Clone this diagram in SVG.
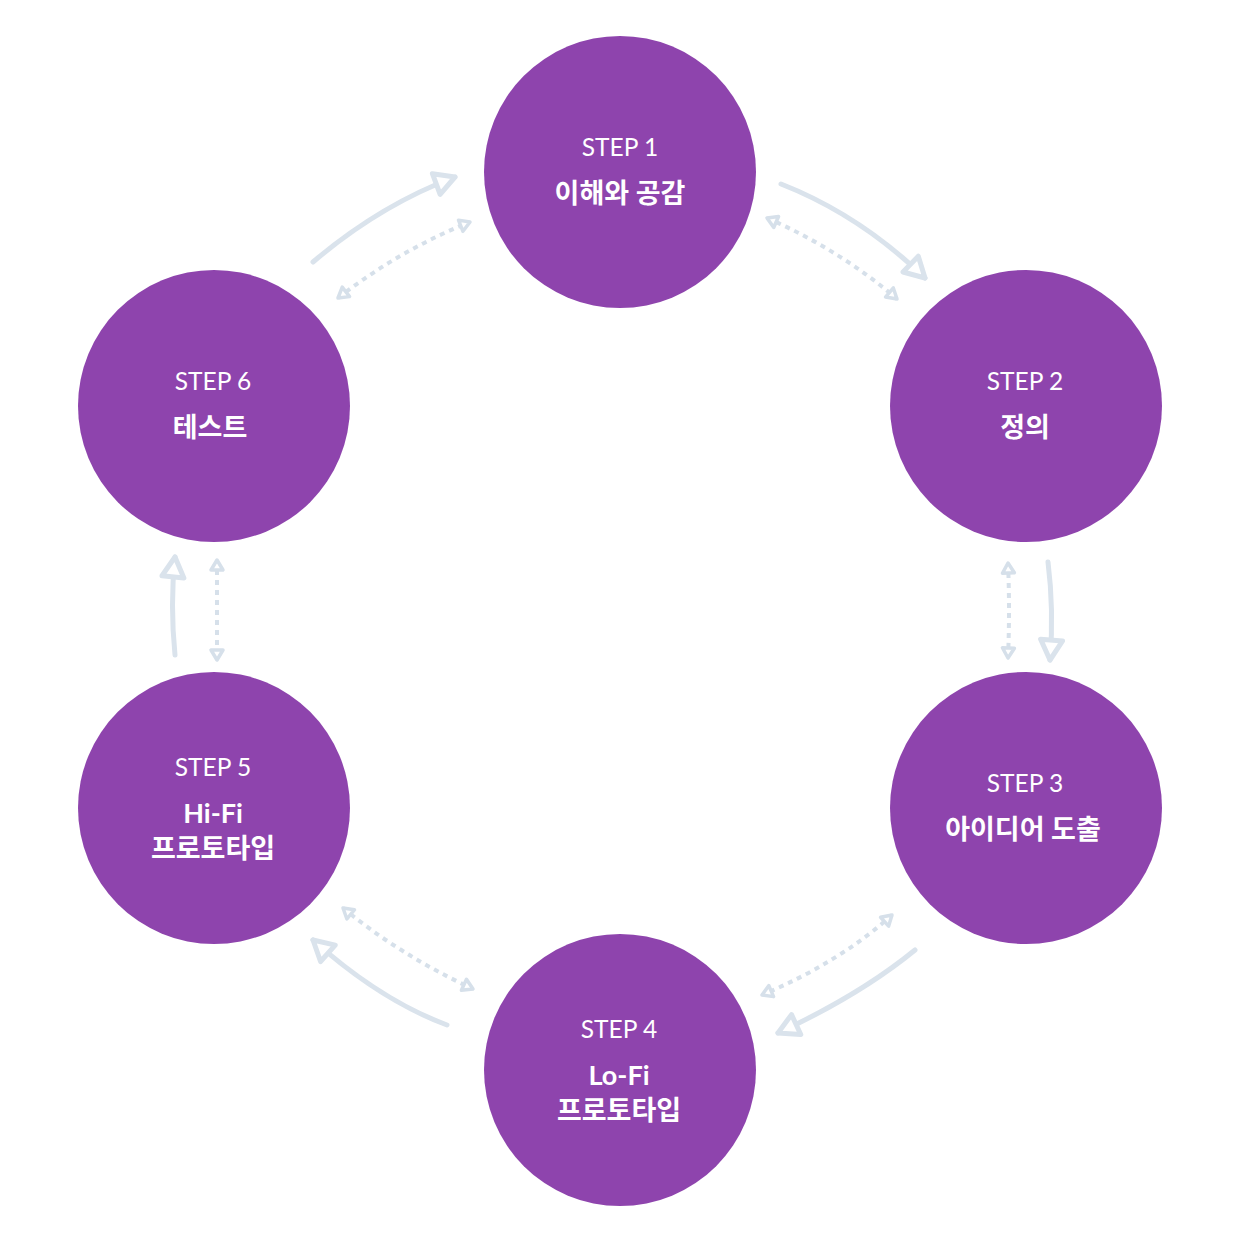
<svg xmlns="http://www.w3.org/2000/svg" width="1240" height="1240" viewBox="0 0 1240 1240">
<defs>
<style>
.node{fill:#8e44ad}
.step{font-family:Lato,"Noto Sans CJK KR",sans-serif;font-size:24.5px;fill:#fff;text-anchor:middle}
.title{font-family:Lato,"Noto Sans CJK KR",sans-serif;font-size:27px;font-weight:bold;fill:#fff;text-anchor:middle}
.main{fill:none;stroke:#dae3ec;stroke-width:5;stroke-linecap:round;marker-end:url(#head)}
.dash{fill:none;stroke:#d6e0ea;stroke-width:4;stroke-dasharray:5 5;marker-start:url(#shead);marker-end:url(#shead)}
</style>
<marker id="head" markerUnits="userSpaceOnUse" orient="auto" refX="20" refY="0" markerWidth="40" markerHeight="40" overflow="visible">
<path d="M0,-11 L20,0 L0,11 Z" fill="#fff" stroke="#dae3ec" stroke-width="5" stroke-linejoin="round"/>
</marker>
<marker id="shead" markerUnits="userSpaceOnUse" orient="auto-start-reverse" refX="10" refY="0" markerWidth="20" markerHeight="20" overflow="visible">
<path d="M0,-6 L10,0 L0,6 Z" fill="#fff" stroke="#d6e0ea" stroke-width="3.5" stroke-linejoin="round"/>
</marker>
</defs>
<rect width="1240" height="1240" fill="#fff"/>
<g id="connectors">
<path class="main" d="M781,184 Q860,215 925,278"/>
<path class="dash" d="M767,218 Q840,250 897,299"/>
<path class="main" d="M1048,562 Q1054,610 1050,660"/>
<path class="dash" d="M1008,563 Q1010,610 1008,658"/>
<path class="main" d="M915,950 Q860,995 778,1033"/>
<path class="dash" d="M892,915 Q840,962 762,995"/>
<path class="main" d="M447,1025 Q380,1000 313,940"/>
<path class="dash" d="M343,908 Q400,955 473,989"/>
<path class="main" d="M175,655 Q170,605 175,557"/>
<path class="dash" d="M217,560 L217,660"/>
<path class="main" d="M313,262 Q380,205 455,177"/>
<path class="dash" d="M338,298 Q400,250 470,222"/>
</g>
<g id="step1">
<circle class="node" cx="620" cy="172" r="136"/>
<text class="step" x="620" y="156">STEP 1</text>
<text class="title" x="620" y="203">이해와 공감</text>
</g>
<g id="step2">
<circle class="node" cx="1026" cy="406" r="136"/>
<text class="step" x="1025" y="390">STEP 2</text>
<text class="title" x="1025" y="437">정의</text>
</g>
<g id="step3">
<circle class="node" cx="1026" cy="808" r="136"/>
<text class="step" x="1025" y="792">STEP 3</text>
<text class="title" x="1023" y="839">아이디어 도출</text>
</g>
<g id="step4">
<circle class="node" cx="620" cy="1070" r="136"/>
<text class="step" x="619" y="1038">STEP 4</text>
<text class="title" x="619" y="1085">Lo-Fi</text>
<text class="title" x="619" y="1120">프로토타입</text>
</g>
<g id="step5">
<circle class="node" cx="214" cy="808" r="136"/>
<text class="step" x="213" y="776">STEP 5</text>
<text class="title" x="213" y="823">Hi-Fi</text>
<text class="title" x="213" y="858">프로토타입</text>
</g>
<g id="step6">
<circle class="node" cx="214" cy="406" r="136"/>
<text class="step" x="213" y="390">STEP 6</text>
<text class="title" x="210" y="437">테스트</text>
</g>
</svg>
